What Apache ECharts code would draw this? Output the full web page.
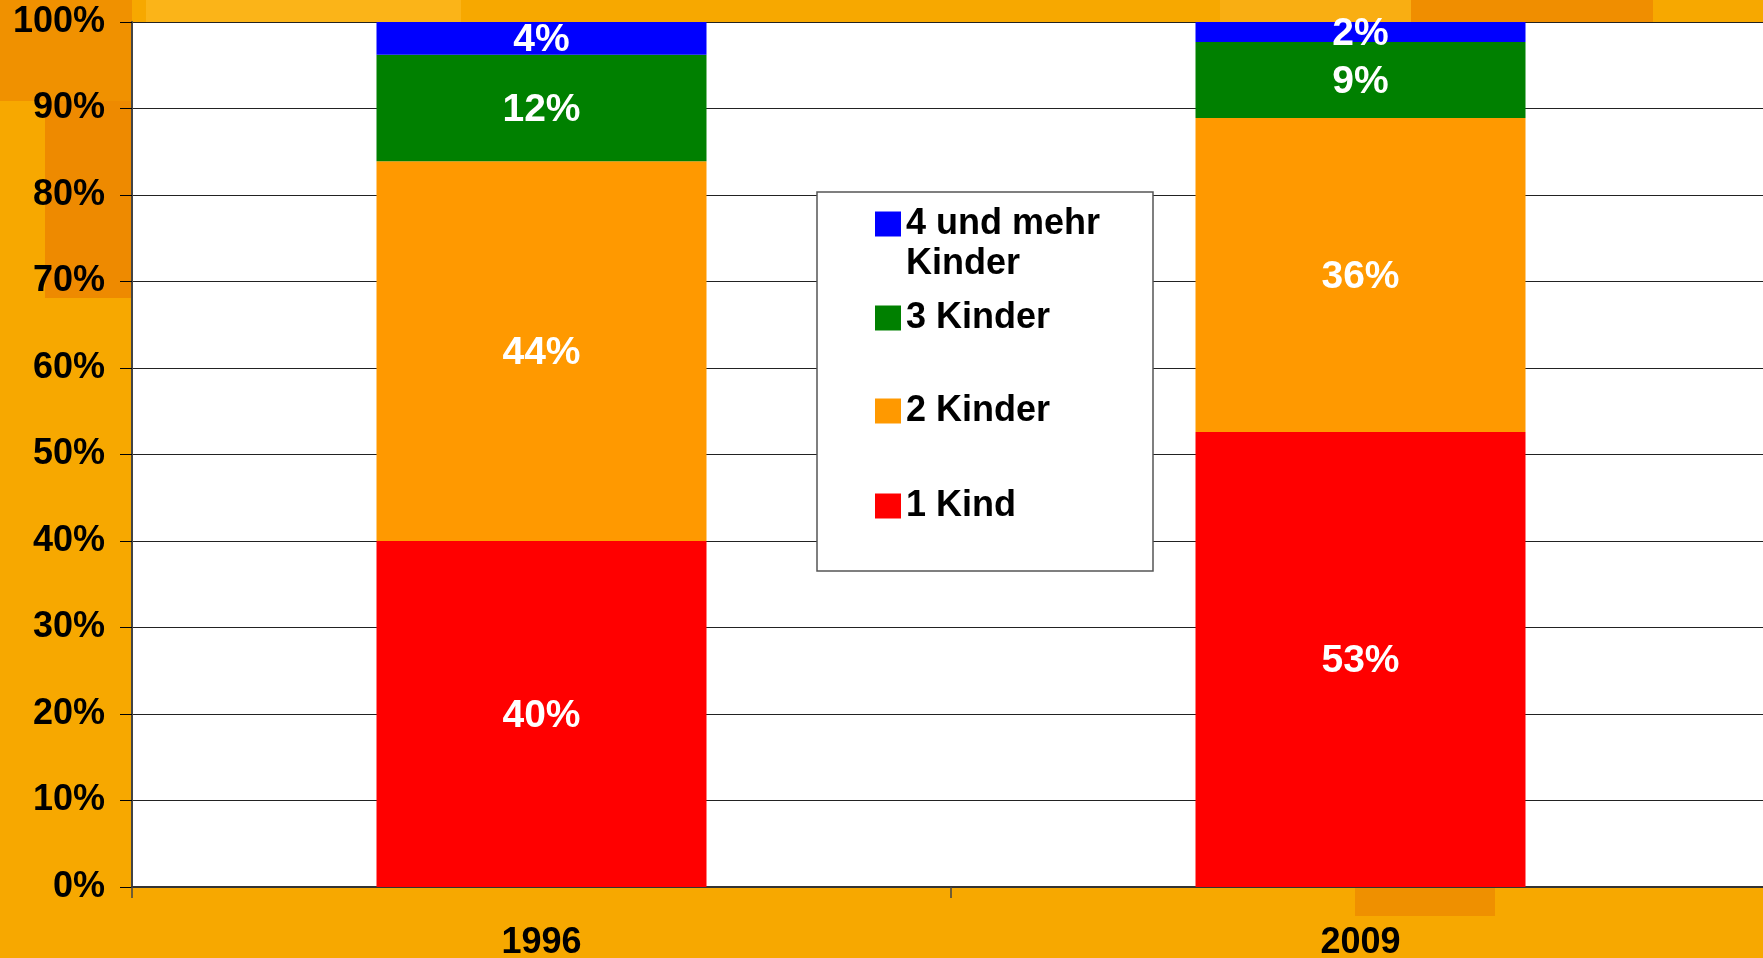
<!DOCTYPE html>
<html>
<head>
<meta charset="utf-8">
<title>Kinder je Familie 1996 / 2009</title>
<script src="https://cdn.jsdelivr.net/npm/echarts@6/dist/echarts.min.js"></script>
<style>
  html, body { margin: 0; padding: 0; background: #F7A800; }
  #main { width: 1763px; height: 958px; }
</style>
</head>
<body>
<div id="main"></div>
<script>
const categories = ['1996', '2009']
const seriesNames = ['1 Kind', '2 Kinder', '3 Kinder', '4 und mehr Kinder']
const kind1 = [40.0, 52.6]
const kinder2 = [43.9, 36.3]
const kinder3 = [12.3, 8.8]
const kinder4 = [3.8, 2.3]
const yTicks = [0, 10, 20, 30, 40, 50, 60, 70, 80, 90, 100]

const barColors = ['#FF0000', '#FF9900', '#008000', '#0000FF']
const font = "'Liberation Sans', Arial, sans-serif"

const chart = echarts.init(document.getElementById('main'))

const values = [kind1, kinder2, kinder3, kinder4]

const series = seriesNames.map((name, i) => ({
  name,
  type: 'bar',
  stack: 'total',
  barWidth: 330,
  data: values[i],
  itemStyle: { color: barColors[i] },
  label: {
    show: true,
    position: 'inside',
    offset: [0, 2],
    color: '#fff',
    fontFamily: font,
    fontWeight: 'bold',
    fontSize: 39,
    formatter: (p) => Math.round(p.value) + '%'
  }
}))

// legend: one component per item so the vertical spacing can follow the picture
const legendTops = [164, 298, 391, 486]
const legendOrder = ['4 und mehr Kinder', '3 Kinder', '2 Kinder', '1 Kind']
const legends = legendOrder.map((name, i) => ({
  data: [name],
  left: 875,
  top: legendTops[i],
  orient: 'vertical',
  padding: 0,
  z: 10,
  icon: 'rect',
  itemWidth: 26,
  itemHeight: 25,
  selectedMode: false,
  formatter: (n) => n === '4 und mehr Kinder' ? ' \n4 und mehr\nKinder' : n,
  textStyle: {
    color: '#000',
    fontFamily: font,
    fontWeight: 'bold',
    fontSize: 36,
    lineHeight: 40
  }
}))

const option = {
  animation: false,
  backgroundColor: '#F7A800',
  textStyle: { fontFamily: font },
  graphic: [
    // darker / lighter patches of the slide background
    { type: 'rect', z: -10, shape: { x: 0, y: 0, width: 132, height: 101 }, style: { fill: '#F09100' } },
    { type: 'rect', z: -10, shape: { x: 45, y: 101, width: 87, height: 197 }, style: { fill: '#EE8A00' } },
    { type: 'rect', z: -10, shape: { x: 146, y: 0, width: 315, height: 22 }, style: { fill: '#FBB418' } },
    { type: 'rect', z: -10, shape: { x: 1220, y: 0, width: 191, height: 22 }, style: { fill: '#F9AE12' } },
    { type: 'rect', z: -10, shape: { x: 1411, y: 0, width: 242, height: 22 }, style: { fill: '#F08E00' } },
    { type: 'rect', z: -10, shape: { x: 1355, y: 888, width: 140, height: 28 }, style: { fill: '#EF9000' } },
    // legend frame
    {
      type: 'rect',
      z: 5,
      shape: { x: 817, y: 192, width: 336, height: 379 },
      style: { fill: '#fff', stroke: '#555', lineWidth: 1.5 }
    }
  ],
  legend: legends,
  grid: {
    left: 132,
    top: 22,
    width: 1638,
    bottom: 71,
    outerBoundsMode: 'none',
    show: true,
    backgroundColor: '#fff',
    borderWidth: 0
  },
  xAxis: {
    type: 'category',
    data: categories,
    axisLine: { lineStyle: { color: '#333', width: 2 } },
    axisTick: { show: true, length: 11, lineStyle: { color: '#444', width: 1.5 } },
    axisLabel: {
      margin: 38,
      color: '#000',
      fontFamily: font,
      fontWeight: 'bold',
      fontSize: 36
    }
  },
  yAxis: {
    type: 'value',
    min: yTicks[0],
    max: yTicks[yTicks.length - 1],
    interval: 10,
    axisLine: { show: true, lineStyle: { color: '#444', width: 2 } },
    axisTick: { show: true, length: 12, lineStyle: { color: '#000', width: 1 } },
    axisLabel: {
      margin: 27,
      color: '#000',
      fontFamily: font,
      fontWeight: 'bold',
      fontSize: 36,
      formatter: '{value}%'
    },
    splitLine: { show: true, lineStyle: { color: '#222', width: 1 } }
  },
  series
}

chart.setOption(option)
</script>
</body>
</html>
